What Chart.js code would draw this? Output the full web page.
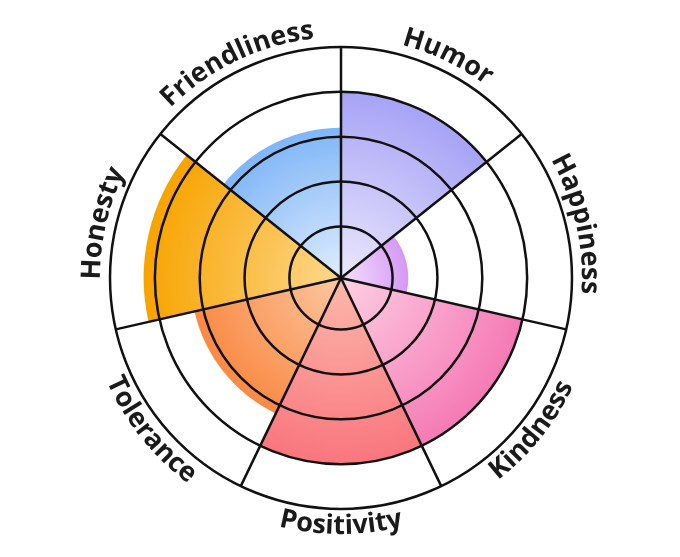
<!DOCTYPE html>
<html>
<head>
<meta charset="utf-8">
<script src="https://cdn.jsdelivr.net/npm/chart.js@4.4.0/dist/chart.umd.min.js"></script>
<style>
  html, body { margin: 0; padding: 0; background: #fff; }
</style>
</head>
<body>
<canvas id="myChart" width="680" height="557"></canvas>
<script>
const labels = ['Humor', 'Happiness', 'Kindness', 'Positivity', 'Tolerance', 'Honesty', 'Friendliness'];
const values = [4, 1.35, 4, 4, 3.2, 4.25, 3.2];
const tickValues = [1, 2, 3, 4, 5];
const outerColors = ['#a7a3f6', '#d59af4', '#f57ab5', '#f9767e', '#f98a45', '#f7a400', '#80b6f7'];
const innerColors = ['#ebe8fd', '#f5e0fc', '#fdd0e3', '#fcb8ab', '#fdc7a0', '#fed88e', '#e0edfd'];

// radial gradient per slice, light in the middle, full colour at the rim
const sliceFill = (context) => {
  const chart = context.chart;
  const i = context.dataIndex;
  const scale = chart.scales.r;
  if (!chart.chartArea || !scale) return outerColors[i];
  const r = scale.getDistanceFromCenterForValue(context.raw);
  const g = chart.ctx.createRadialGradient(scale.xCenter, scale.yCenter, 0, scale.xCenter, scale.yCenter, Math.max(r, 1));
  g.addColorStop(0, innerColors[i]);
  g.addColorStop(1, outerColors[i]);
  return g;
};

// labels written along the outer circle
const curvedLabels = {
  id: 'curvedLabels',
  afterDraw(chart) {
    const scale = chart.scales.r;
    const ctx = chart.ctx;
    const cx = scale.xCenter;
    const cy = scale.yCenter;
    const R = scale.drawingArea;
    const step = Math.PI * 2 / labels.length;
    ctx.save();
    ctx.font = 'bold 27px "Open Sans"';
    ctx.fillStyle = '#1a1a1a';
    ctx.textAlign = 'center';
    ctx.textBaseline = 'alphabetic';
    labels.forEach((text, i) => {
      const mid = scale.getIndexAngle(i) + step / 2;
      const bottom = Math.cos(mid) < 0;
      const r = bottom ? R + 25 : R + 10;
      const chars = [...text];
      const widths = chars.map(ch => ctx.measureText(ch).width);
      const total = widths.reduce((a, b) => a + b, 0);
      let acc = 0;
      chars.forEach((ch, k) => {
        const off = (acc + widths[k] / 2 - total / 2) / r;
        const a = bottom ? mid - off : mid + off;
        ctx.save();
        ctx.translate(cx + r * Math.sin(a), cy - r * Math.cos(a));
        ctx.rotate(bottom ? a + Math.PI : a);
        ctx.fillText(ch, 0, 0);
        ctx.restore();
        acc += widths[k];
      });
    });
    ctx.restore();
  }
};

new Chart(document.getElementById('myChart'), {
  type: 'polarArea',
  data: {
    labels: labels,
    datasets: [{
      data: values,
      backgroundColor: sliceFill,
      borderWidth: 0
    }]
  },
  options: {
    responsive: false,
    animation: false,
    layout: { padding: { left: 110, right: 108, top: 47, bottom: 48 } },
    plugins: {
      legend: { display: false },
      tooltip: { enabled: false }
    },
    scales: {
      r: {
        min: -0.15,
        max: 5,
        afterBuildTicks: (s) => { s.ticks = tickValues.map(v => ({ value: v })); },
        ticks: { display: false },
        pointLabels: { display: false },
        grid: { color: '#111111', lineWidth: 2.5, z: 1 },
        angleLines: { display: true, color: '#111111', lineWidth: 2.5 }
      }
    }
  },
  plugins: [curvedLabels]
});
</script>
</body>
</html>
